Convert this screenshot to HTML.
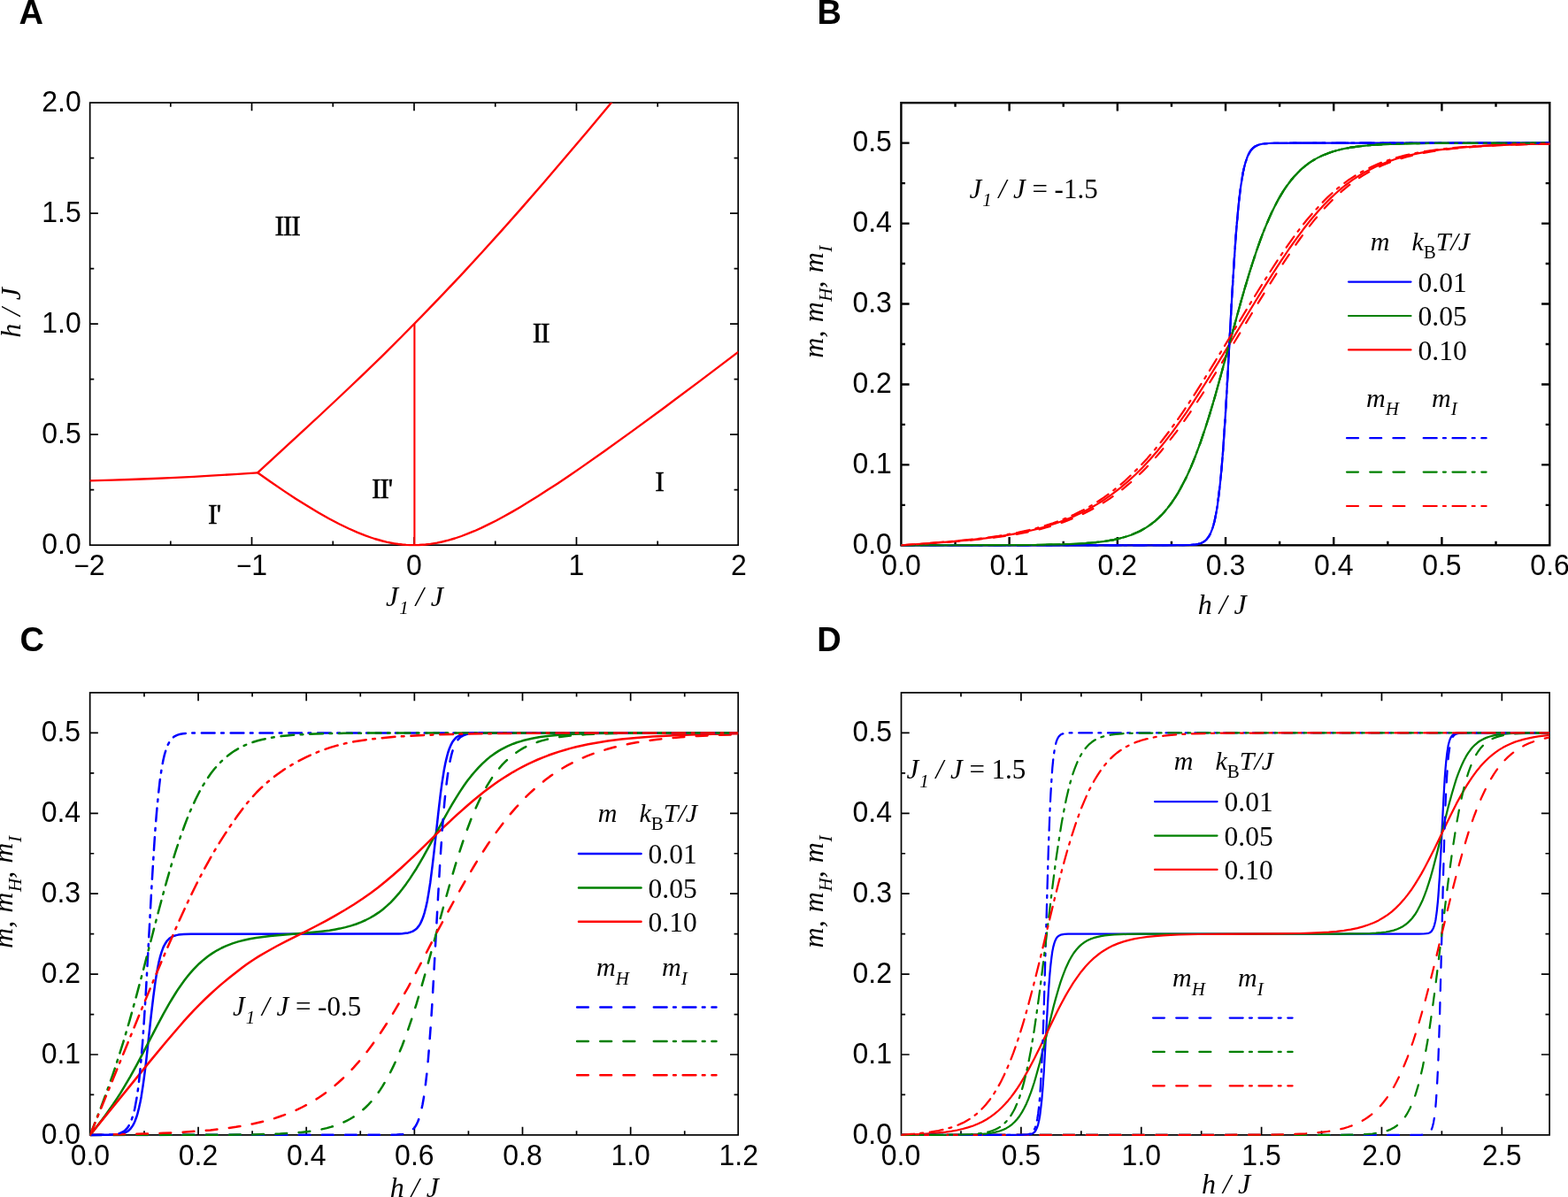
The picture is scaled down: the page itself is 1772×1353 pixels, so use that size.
<!DOCTYPE html>
<html><head><meta charset="utf-8"><title>Phase diagram and magnetization curves</title>
<style>html,body{margin:0;padding:0;background:#fff}svg{display:block}</style>
</head><body>
<svg width="1772" height="1353" viewBox="0 0 1772 1353">
<rect width="1772" height="1353" fill="#fff"/>
<defs>
<clipPath id="cA"><rect x="101.65" y="116.1" width="732.55" height="501.55"/></clipPath>
<clipPath id="cB"><rect x="1018.4" y="116.2" width="732.9" height="501.6"/></clipPath>
<clipPath id="cC"><rect x="101.65" y="782.95" width="732.55" height="501.45"/></clipPath>
<clipPath id="cD"><rect x="1018.5" y="782.95" width="732.6" height="501.45"/></clipPath>
</defs>
<text x="21.5" y="26.7" font-family="'Liberation Sans', sans-serif" font-weight="bold" font-size="38">A</text>
<text x="923.5" y="26.7" font-family="'Liberation Sans', sans-serif" font-weight="bold" font-size="38">B</text>
<text x="22.5" y="735.6" font-family="'Liberation Sans', sans-serif" font-weight="bold" font-size="38">C</text>
<text x="923.3" y="735.6" font-family="'Liberation Sans', sans-serif" font-weight="bold" font-size="38">D</text>
<rect x="101.65" y="116.1" width="732.55" height="500.05" fill="none" stroke="#000" stroke-width="1.7"/>
<path d="M284.53 616.15v-9.2M284.53 116.1v9.2M468 616.15v-9.2M468 116.1v9.2M651.47 616.15v-9.2M651.47 116.1v9.2M192.8 616.15v-4.6M192.8 116.1v4.6M376.27 616.15v-4.6M376.27 116.1v4.6M559.74 616.15v-4.6M559.74 116.1v4.6M743.21 616.15v-4.6M743.21 116.1v4.6M101.65 491.14h9.2M834.2 491.14h-9.2M101.65 366.12h9.2M834.2 366.12h-9.2M101.65 241.11h9.2M834.2 241.11h-9.2M101.65 553.64h4.6M834.2 553.64h-4.6M101.65 428.63h4.6M834.2 428.63h-4.6M101.65 303.62h4.6M834.2 303.62h-4.6M101.65 178.61h4.6M834.2 178.61h-4.6" fill="none" stroke="#000" stroke-width="1.7"/>
<polyline points="101.1,543.3 127.3,542.6 146.9,542 173.1,541 192.8,540.1 219,538.8 238.7,537.7 264.9,536.1 291.1,534.3" fill="none" stroke="#ff0000" stroke-width="2.35" stroke-linejoin="round" stroke-linecap="butt" clip-path="url(#cA)"/>
<polyline points="291.1,534.3 306,544.8 320.8,554.9 334.2,563.7 347.6,572.1 359.5,579.2 371.4,586 383.3,592.2 393.7,597.3 404.1,601.9 413,605.4 418.9,607.5 423.4,609 432.3,611.5 436.8,612.6 441.2,613.5 445.7,614.3 450.2,615 454.6,615.5 459.1,615.9 463.5,616.1 468,616.1" fill="none" stroke="#ff0000" stroke-width="2.35" stroke-linejoin="round" stroke-linecap="butt" clip-path="url(#cA)"/>
<polyline points="468,616.1 473.5,616 480.9,615.5 486.4,614.9 493.8,613.7 499.3,612.5 506.7,610.7 514.1,608.5 521.5,606 528.8,603.2 536.2,600.2 543.6,596.9 552.8,592.4 560.2,588.7 569.4,583.7 578.6,578.6 587.9,573.2 597.1,567.6 608.1,560.7 619.2,553.6 630.3,546.4 643.2,537.7 656.1,528.9 683.7,509.5 715.1,486.9 750.1,461.2 790.7,430.9 834.9,397.4" fill="none" stroke="#ff0000" stroke-width="2.35" stroke-linejoin="round" stroke-linecap="butt" clip-path="url(#cA)"/>
<polyline points="291.1,534.3 342.1,487.4 362.5,468.5 387,445.5 409.5,424.1 432,402.3 454.4,380 476.9,357.2 499.3,333.9 521.8,310.1 544.2,285.7 566.7,260.9 589.1,235.6 613.6,207.4 638.1,178.8 664.7,147.4 697.3,108.4" fill="none" stroke="#ff0000" stroke-width="2.35" stroke-linejoin="round" stroke-linecap="butt" clip-path="url(#cA)"/>
<line x1="468.4" y1="366.12" x2="468.4" y2="616.15" stroke="#ff0000" stroke-width="2.1"/>
<text transform="translate(101.06,649.75) scale(0.955,1)" text-anchor="middle" font-family="'Liberation Sans', sans-serif" font-size="33.5"><tspan font-size="31">−</tspan>2</text>
<text transform="translate(284.53,649.75) scale(0.955,1)" text-anchor="middle" font-family="'Liberation Sans', sans-serif" font-size="33.5"><tspan font-size="31">−</tspan>1</text>
<text transform="translate(468,649.75) scale(0.955,1)" text-anchor="middle" font-family="'Liberation Sans', sans-serif" font-size="33.5">0</text>
<text transform="translate(651.47,649.75) scale(0.955,1)" text-anchor="middle" font-family="'Liberation Sans', sans-serif" font-size="33.5">1</text>
<text transform="translate(834.94,649.75) scale(0.955,1)" text-anchor="middle" font-family="'Liberation Sans', sans-serif" font-size="33.5">2</text>
<text transform="translate(91.8,625.75) scale(0.955,1)" text-anchor="end" font-family="'Liberation Sans', sans-serif" font-size="33.5">0.0</text>
<text transform="translate(91.8,500.74) scale(0.955,1)" text-anchor="end" font-family="'Liberation Sans', sans-serif" font-size="33.5">0.5</text>
<text transform="translate(91.8,375.73) scale(0.955,1)" text-anchor="end" font-family="'Liberation Sans', sans-serif" font-size="33.5">1.0</text>
<text transform="translate(91.8,250.71) scale(0.955,1)" text-anchor="end" font-family="'Liberation Sans', sans-serif" font-size="33.5">1.5</text>
<text transform="translate(91.8,125.7) scale(0.955,1)" text-anchor="end" font-family="'Liberation Sans', sans-serif" font-size="33.5">2.0</text>
<text x="324.5" y="265.8" text-anchor="middle" font-family="'Liberation Serif', serif" font-size="32" letter-spacing="-1.3" stroke="#000" stroke-width="0.45">III</text>
<text x="611" y="386.8" text-anchor="middle" font-family="'Liberation Serif', serif" font-size="32" letter-spacing="-1.3" stroke="#000" stroke-width="0.45">II</text>
<text x="745" y="554.8" text-anchor="middle" font-family="'Liberation Serif', serif" font-size="32" letter-spacing="-1.3" stroke="#000" stroke-width="0.45">I</text>
<text x="431.5" y="562.8" text-anchor="middle" font-family="'Liberation Serif', serif" font-size="32" letter-spacing="-1.3" stroke="#000" stroke-width="0.45">II'</text>
<text x="242" y="591.8" text-anchor="middle" font-family="'Liberation Serif', serif" font-size="32" letter-spacing="-1.3" stroke="#000" stroke-width="0.45">I'</text>
<text transform="translate(22.5,353.5) rotate(-90)" text-anchor="middle" font-family="'Liberation Serif', serif" font-style="italic" font-size="32" word-spacing="0.8">h / J</text>
<text x="468.5" y="684.5" text-anchor="middle" font-family="'Liberation Serif', serif" font-style="italic" font-size="32">J<tspan dy="9.4" dx="1" font-size="21">1</tspan><tspan dy="-9.4"> / J</tspan></text>
<rect x="1018.4" y="116.2" width="732.9" height="500.1" fill="none" stroke="#000" stroke-width="2.4"/>
<path d="M1140.65 616.3v-9.2M1140.65 116.2v9.2M1262.84 616.3v-9.2M1262.84 116.2v9.2M1385.03 616.3v-9.2M1385.03 116.2v9.2M1507.22 616.3v-9.2M1507.22 116.2v9.2M1629.41 616.3v-9.2M1629.41 116.2v9.2M1079.56 616.3v-4.6M1079.56 116.2v4.6M1201.74 616.3v-4.6M1201.74 116.2v4.6M1323.93 616.3v-4.6M1323.93 116.2v4.6M1446.12 616.3v-4.6M1446.12 116.2v4.6M1568.32 616.3v-4.6M1568.32 116.2v4.6M1690.51 616.3v-4.6M1690.51 116.2v4.6M1018.4 525.37h9.2M1751.3 525.37h-9.2M1018.4 434.45h9.2M1751.3 434.45h-9.2M1018.4 343.52h9.2M1751.3 343.52h-9.2M1018.4 252.59h9.2M1751.3 252.59h-9.2M1018.4 161.66h9.2M1751.3 161.66h-9.2M1018.4 570.84h4.6M1751.3 570.84h-4.6M1018.4 479.91h4.6M1751.3 479.91h-4.6M1018.4 388.98h4.6M1751.3 388.98h-4.6M1018.4 298.05h4.6M1751.3 298.05h-4.6M1018.4 207.13h4.6M1751.3 207.13h-4.6" fill="none" stroke="#000" stroke-width="2.4"/>
<polyline points="1018.5,616.3 1311.9,616.3 1335.9,616.2 1345.2,616 1348.6,615.7 1351.5,615.4 1354,614.9 1356.4,614.2 1358.4,613.4 1360.3,612.4 1361.8,611.3 1363.3,610 1364.7,608.3 1366.2,606.2 1367.7,603.5 1368.6,601.4 1369.6,598.9 1370.6,596 1371.6,592.6 1372.6,588.8 1374,581.9 1375,576.4 1376,570.2 1377.4,559.2 1378.9,546.1 1380.4,530.7 1381.9,512.7 1383.3,492.3 1384.8,469.5 1386.3,444.6 1391.6,346.2 1394.1,304.5 1396.5,268.4 1397.5,255.9 1399,239.2 1400.4,225 1402.4,209.4 1403.9,200.1 1404.8,194.8 1405.8,190.2 1406.8,186.2 1407.8,182.8 1408.8,179.8 1409.7,177.2 1410.7,175 1412.2,172.2 1413.2,170.7 1414.6,168.8 1416.6,166.8 1418.5,165.4 1421,164.2 1423.4,163.4 1426.4,162.7 1429.8,162.3 1433.7,162 1439.1,161.8 1463,161.7 1751.6,161.7" fill="none" stroke="#0000ff" stroke-width="2.2" stroke-linejoin="round" stroke-linecap="butt" clip-path="url(#cB)"/>
<polyline points="1018.5,616.3 1119.2,616.2 1167.6,616 1186.2,615.7 1201.4,615.3 1214.6,614.8 1226.3,614.1 1238.1,613.1 1248.3,611.8 1257.6,610.3 1262,609.4 1266.4,608.3 1270.3,607.2 1274.3,606 1278.2,604.7 1281.6,603.3 1285,601.8 1288.4,600.2 1291.9,598.3 1294.8,596.6 1298.7,594 1302.1,591.5 1305.6,588.8 1309,585.7 1312.4,582.4 1315.8,578.7 1319.2,574.6 1322.2,570.8 1325.6,566 1328.5,561.6 1331.5,556.8 1334.4,551.6 1337.3,546.1 1340.3,540.2 1343.2,534 1345.7,528.4 1348.6,521.4 1351,515.3 1356.4,500.8 1361.8,484.9 1367.2,467.9 1372.6,449.8 1377.9,430.8 1398,356.9 1402.4,341 1406.8,325.6 1411.7,309.3 1416.1,295.3 1420.5,282.1 1424.4,271.1 1427.3,263.3 1429.8,257.1 1434.7,245.6 1437.1,240.3 1440.1,234.2 1442.5,229.5 1445.4,224.1 1447.9,219.9 1450.8,215.2 1453.7,210.8 1456.7,206.8 1459.6,203 1462.6,199.6 1465.5,196.4 1468.9,192.9 1472.3,189.8 1475.8,187 1479.2,184.4 1482.6,182.1 1486,180.1 1489.9,177.9 1493.9,176 1497.8,174.4 1502.2,172.7 1506.6,171.2 1511,170 1515.9,168.8 1521.2,167.6 1526.6,166.7 1532.5,165.8 1538.4,165.1 1550.1,164 1563.3,163.2 1579,162.6 1598,162.2 1619.5,161.9 1647.4,161.8 1751.6,161.7" fill="none" stroke="#008000" stroke-width="2.2" stroke-linejoin="round" stroke-linecap="butt" clip-path="url(#cB)"/>
<polyline points="1018.5,616.3 1040,614.9 1073.2,612.4 1095.2,610.4 1113.8,608.4 1130.5,606.1 1138.3,604.9 1145.6,603.6 1153,602.2 1159.8,600.8 1166.7,599.2 1173,597.6 1179.9,595.7 1186.2,593.8 1192.6,591.8 1198.9,589.5 1205.3,587.1 1211.2,584.7 1217,582.1 1222.9,579.3 1228.8,576.2 1234.1,573.3 1239.5,570.1 1244.9,566.8 1250.3,563.2 1255.7,559.4 1261,555.4 1265.9,551.6 1270.3,547.9 1274.7,544.1 1283.1,536.5 1291.4,528.2 1299.7,519.3 1308,509.7 1316.8,498.9 1325.1,488.1 1333.9,475.9 1340.8,466.1 1348.1,455.2 1355.4,443.9 1363.3,431.5 1377,409.3 1417.6,342.5 1428.8,324.3 1438.6,308.8 1447.9,294.6 1456.7,281.5 1465,269.8 1472.8,259.3 1481.1,248.7 1489,239.5 1496.8,231 1500.7,227 1504.6,223.1 1508.5,219.5 1512.4,216 1516.3,212.7 1520.3,209.5 1524.2,206.6 1528.1,203.7 1532,201.1 1536.4,198.3 1540.3,195.9 1544.7,193.5 1549.1,191.2 1553.5,189 1557.9,187 1562.3,185.2 1566.7,183.4 1571.6,181.7 1576.5,180 1581.4,178.5 1591.7,175.8 1602.4,173.4 1614.2,171.2 1626.4,169.4 1639.6,167.8 1654.3,166.4 1669.9,165.3 1687,164.4 1706.1,163.6 1727.1,163 1751.6,162.6" fill="none" stroke="#ff0000" stroke-width="2.2" stroke-linejoin="round" stroke-linecap="butt" clip-path="url(#cB)"/>
<polyline points="1018.5,616.3 1311.9,616.3 1335.9,616.2 1345.2,616 1348.6,615.7 1351.5,615.4 1354,614.9 1356.4,614.2 1358.4,613.4 1360.3,612.4 1361.8,611.3 1363.3,610 1364.7,608.3 1366.2,606.2 1367.7,603.5 1368.6,601.4 1369.6,598.9 1370.6,596 1371.6,592.6 1372.6,588.8 1374,581.9 1375,576.4 1376,570.2 1377.4,559.2 1378.9,546.1 1380.4,530.7 1381.9,512.7 1383.3,492.3 1384.8,469.5 1386.3,444.6 1391.6,346.2 1394.1,304.5 1396.5,268.4 1397.5,255.9 1399,239.2 1400.4,225 1402.4,209.4 1403.9,200.1 1404.8,194.8 1405.8,190.2 1406.8,186.2 1407.8,182.8 1408.8,179.8 1409.7,177.2 1410.7,175 1412.2,172.2 1413.2,170.7 1414.6,168.8 1416.6,166.8 1418.5,165.4 1421,164.2 1423.4,163.4 1426.4,162.7 1429.8,162.3 1433.7,162 1439.1,161.8 1463,161.7 1751.6,161.7" fill="none" stroke="#0000ff" stroke-width="2.2" stroke-linejoin="round" stroke-linecap="round" stroke-dasharray="13.02 13.18" clip-path="url(#cB)"/>
<polyline points="1018.5,616.3 1119.2,616.2 1167.6,616 1186.2,615.7 1201.4,615.3 1214.6,614.8 1226.3,614.1 1238.1,613.1 1248.3,611.8 1257.6,610.3 1262,609.4 1266.4,608.3 1270.3,607.2 1274.3,606 1278.2,604.7 1281.6,603.3 1285,601.8 1288.4,600.2 1291.9,598.3 1294.8,596.6 1298.7,594 1302.1,591.5 1305.6,588.8 1309,585.7 1312.4,582.4 1315.8,578.7 1319.2,574.6 1322.2,570.8 1325.6,566 1328.5,561.6 1331.5,556.8 1334.4,551.6 1337.3,546.1 1340.3,540.2 1343.2,534 1345.7,528.4 1348.6,521.4 1351,515.3 1356.4,500.8 1361.8,484.9 1367.2,467.9 1372.6,449.8 1377.9,430.8 1398,356.9 1402.4,341 1406.8,325.6 1411.7,309.3 1416.1,295.3 1420.5,282.1 1424.4,271.1 1427.3,263.3 1429.8,257.1 1434.7,245.6 1437.1,240.3 1440.1,234.2 1442.5,229.5 1445.4,224.1 1447.9,219.9 1450.8,215.2 1453.7,210.8 1456.7,206.8 1459.6,203 1462.6,199.6 1465.5,196.4 1468.9,192.9 1472.3,189.8 1475.8,187 1479.2,184.4 1482.6,182.1 1486,180.1 1489.9,177.9 1493.9,176 1497.8,174.4 1502.2,172.7 1506.6,171.2 1511,170 1515.9,168.8 1521.2,167.6 1526.6,166.7 1532.5,165.8 1538.4,165.1 1550.1,164 1563.3,163.2 1579,162.6 1598,162.2 1619.5,161.9 1647.4,161.8 1751.6,161.7" fill="none" stroke="#008000" stroke-width="2.2" stroke-linejoin="round" stroke-linecap="round" stroke-dasharray="13.02 13.18" clip-path="url(#cB)"/>
<polyline points="1018.5,616.3 1040.5,615 1074.7,612.5 1096.7,610.6 1115.3,608.7 1131.9,606.5 1139.8,605.4 1147.6,604.1 1154.9,602.7 1161.8,601.3 1168.6,599.8 1175.5,598.1 1182.3,596.3 1189.2,594.3 1195.5,592.3 1201.9,590.1 1208.2,587.7 1214.1,585.3 1220,582.7 1225.8,580 1231.7,577 1237.1,574.1 1243,570.7 1248.3,567.4 1253.7,563.9 1259.1,560.1 1264.5,556.2 1269.4,552.3 1273.8,548.7 1278.2,545 1286.5,537.4 1290.9,533.1 1295.3,528.7 1303.6,519.8 1311.9,510.2 1320.7,499.4 1329,488.6 1337.8,476.5 1344.7,466.7 1352,455.8 1359.4,444.5 1367.7,431.4 1381.4,409.2 1421.5,343 1433.2,324.1 1443,308.6 1452.3,294.3 1461.1,281.3 1469.4,269.5 1477.2,259 1485,249.1 1492.9,239.8 1500.7,231.2 1504.6,227.2 1508.5,223.4 1512.4,219.7 1516.3,216.2 1520.3,212.9 1524.2,209.7 1528.1,206.7 1532,203.9 1535.9,201.2 1540.3,198.4 1544.2,196.1 1548.6,193.6 1552.5,191.5 1556.9,189.3 1561.3,187.3 1565.7,185.4 1570.1,183.7 1575,181.9 1584.3,178.9 1589.2,177.5 1594.6,176.1 1605.4,173.6 1617.1,171.4 1629.3,169.6 1642.5,167.9 1656.7,166.6 1671.9,165.5 1688.5,164.5 1707.1,163.7 1728.1,163.1 1751.6,162.6" fill="none" stroke="#ff0000" stroke-width="2.2" stroke-linejoin="round" stroke-linecap="round" stroke-dasharray="13.02 13.18" clip-path="url(#cB)"/>
<polyline points="1018.5,616.3 1311.9,616.3 1335.9,616.2 1345.2,616 1348.6,615.7 1351.5,615.4 1354,614.9 1356.4,614.2 1358.4,613.4 1360.3,612.4 1361.8,611.3 1363.3,610 1364.7,608.3 1366.2,606.2 1367.7,603.5 1368.6,601.4 1369.6,598.9 1370.6,596 1371.6,592.6 1372.6,588.8 1374,581.9 1375,576.4 1376,570.2 1377.4,559.2 1378.9,546.1 1380.4,530.7 1381.9,512.7 1383.3,492.3 1384.8,469.5 1386.3,444.6 1391.6,346.2 1394.1,304.5 1396.5,268.4 1397.5,255.9 1399,239.2 1400.4,225 1402.4,209.4 1403.9,200.1 1404.8,194.8 1405.8,190.2 1406.8,186.2 1407.8,182.8 1408.8,179.8 1409.7,177.2 1410.7,175 1412.2,172.2 1413.2,170.7 1414.6,168.8 1416.6,166.8 1418.5,165.4 1421,164.2 1423.4,163.4 1426.4,162.7 1429.8,162.3 1433.7,162 1439.1,161.8 1463,161.7 1751.6,161.7" fill="none" stroke="#0000ff" stroke-width="2.2" stroke-linejoin="round" stroke-linecap="round" stroke-dasharray="15.02 7.18 3.02 7.58" clip-path="url(#cB)"/>
<polyline points="1018.5,616.3 1119.2,616.2 1167.6,616 1186.2,615.7 1201.4,615.3 1214.6,614.8 1226.3,614.1 1238.1,613.1 1248.3,611.8 1257.6,610.3 1262,609.4 1266.4,608.3 1270.3,607.2 1274.3,606 1278.2,604.7 1281.6,603.3 1285,601.8 1288.4,600.2 1291.9,598.3 1294.8,596.6 1298.7,594 1302.1,591.5 1305.6,588.8 1309,585.7 1312.4,582.4 1315.8,578.7 1319.2,574.6 1322.2,570.8 1325.6,566 1328.5,561.6 1331.5,556.8 1334.4,551.6 1337.3,546.1 1340.3,540.2 1343.2,534 1345.7,528.4 1348.6,521.4 1351,515.3 1356.4,500.8 1361.8,484.9 1367.2,467.9 1372.6,449.8 1377.9,430.8 1398,356.9 1402.4,341 1406.8,325.6 1411.7,309.3 1416.1,295.3 1420.5,282.1 1424.4,271.1 1427.3,263.3 1429.8,257.1 1434.7,245.6 1437.1,240.3 1440.1,234.2 1442.5,229.5 1445.4,224.1 1447.9,219.9 1450.8,215.2 1453.7,210.8 1456.7,206.8 1459.6,203 1462.6,199.6 1465.5,196.4 1468.9,192.9 1472.3,189.8 1475.8,187 1479.2,184.4 1482.6,182.1 1486,180.1 1489.9,177.9 1493.9,176 1497.8,174.4 1502.2,172.7 1506.6,171.2 1511,170 1515.9,168.8 1521.2,167.6 1526.6,166.7 1532.5,165.8 1538.4,165.1 1550.1,164 1563.3,163.2 1579,162.6 1598,162.2 1619.5,161.9 1647.4,161.8 1751.6,161.7" fill="none" stroke="#008000" stroke-width="2.2" stroke-linejoin="round" stroke-linecap="round" stroke-dasharray="15.02 7.18 3.02 7.58" clip-path="url(#cB)"/>
<polyline points="1018.5,616.3 1039,614.9 1071.8,612.2 1093.8,610.2 1112.4,608.1 1128.5,605.8 1136.3,604.5 1143.7,603.2 1150.5,601.9 1157.4,600.4 1164.2,598.8 1170.6,597.2 1177.4,595.3 1183.8,593.3 1190.1,591.2 1196.5,588.9 1202.4,586.6 1208.2,584.2 1214.1,581.5 1220,578.6 1225.8,575.6 1231.2,572.6 1236.6,569.4 1242,566 1247.4,562.4 1252.2,558.9 1257.6,554.8 1262.5,551 1266.9,547.3 1271.3,543.5 1279.6,535.7 1287.9,527.4 1296.3,518.4 1304.6,508.8 1312.9,498.5 1321.2,487.7 1330,475.5 1336.9,465.6 1344.2,454.7 1351.5,443.4 1359.4,431 1372.6,409.6 1413.2,342.6 1424.4,324.5 1434.2,309 1443.5,294.7 1452.3,281.7 1460.6,269.9 1468.4,259.3 1476.7,248.8 1484.6,239.6 1492.4,231 1496.3,227 1500.2,223.1 1504.1,219.5 1508,216 1511.9,212.7 1515.9,209.5 1519.8,206.6 1523.7,203.7 1527.6,201.1 1532,198.3 1535.9,195.9 1540.3,193.5 1544.7,191.1 1549.1,189 1553.5,187 1557.9,185.1 1562.3,183.4 1567.2,181.7 1572.1,180 1577,178.5 1582.4,177 1587.8,175.6 1599,173.2 1610.7,171 1623,169.3 1636.7,167.7 1651.3,166.3 1667.5,165.2 1685.1,164.3 1704.6,163.5 1726.7,162.9 1751.6,162.5" fill="none" stroke="#ff0000" stroke-width="2.2" stroke-linejoin="round" stroke-linecap="round" stroke-dasharray="15.02 7.18 3.02 7.58" clip-path="url(#cB)"/>
<text transform="translate(1018.46,649.9) scale(0.955,1)" text-anchor="middle" font-family="'Liberation Sans', sans-serif" font-size="33.5">0.0</text>
<text transform="translate(1140.65,649.9) scale(0.955,1)" text-anchor="middle" font-family="'Liberation Sans', sans-serif" font-size="33.5">0.1</text>
<text transform="translate(1262.84,649.9) scale(0.955,1)" text-anchor="middle" font-family="'Liberation Sans', sans-serif" font-size="33.5">0.2</text>
<text transform="translate(1385.03,649.9) scale(0.955,1)" text-anchor="middle" font-family="'Liberation Sans', sans-serif" font-size="33.5">0.3</text>
<text transform="translate(1507.22,649.9) scale(0.955,1)" text-anchor="middle" font-family="'Liberation Sans', sans-serif" font-size="33.5">0.4</text>
<text transform="translate(1629.41,649.9) scale(0.955,1)" text-anchor="middle" font-family="'Liberation Sans', sans-serif" font-size="33.5">0.5</text>
<text transform="translate(1751.6,649.9) scale(0.955,1)" text-anchor="middle" font-family="'Liberation Sans', sans-serif" font-size="33.5">0.6</text>
<text transform="translate(1007.9,625.9) scale(0.955,1)" text-anchor="end" font-family="'Liberation Sans', sans-serif" font-size="33.5">0.0</text>
<text transform="translate(1007.9,534.97) scale(0.955,1)" text-anchor="end" font-family="'Liberation Sans', sans-serif" font-size="33.5">0.1</text>
<text transform="translate(1007.9,444.05) scale(0.955,1)" text-anchor="end" font-family="'Liberation Sans', sans-serif" font-size="33.5">0.2</text>
<text transform="translate(1007.9,353.12) scale(0.955,1)" text-anchor="end" font-family="'Liberation Sans', sans-serif" font-size="33.5">0.3</text>
<text transform="translate(1007.9,262.19) scale(0.955,1)" text-anchor="end" font-family="'Liberation Sans', sans-serif" font-size="33.5">0.4</text>
<text transform="translate(1007.9,171.26) scale(0.955,1)" text-anchor="end" font-family="'Liberation Sans', sans-serif" font-size="33.5">0.5</text>
<text x="1548.8" y="283.1" font-family="'Liberation Serif', serif" font-style="italic" font-size="30">m</text>
<text x="1595.5" y="283.1" font-family="'Liberation Serif', serif" font-style="italic" font-size="30">k<tspan dy="9" font-size="21" font-style="normal">B</tspan><tspan dy="-9">T/J</tspan></text>
<line x1="1524" y1="318.6" x2="1594.5" y2="318.6" stroke="#0000ff" stroke-width="2.2" stroke-linecap="round"/>
<text x="1602.5" y="329.7" font-family="'Liberation Serif', serif" font-size="31.5">0.01</text>
<line x1="1521.99" y1="495.2" x2="1588" y2="495.2" stroke="#0000ff" stroke-width="2.2" stroke-linecap="round" stroke-dasharray="13.02 13.18"/>
<line x1="1608.69" y1="495.2" x2="1679.61" y2="495.2" stroke="#0000ff" stroke-width="2.2" stroke-linecap="round" stroke-dasharray="15.02 7.18 3.02 7.58"/>
<line x1="1524" y1="357" x2="1594.5" y2="357" stroke="#008000" stroke-width="2.2" stroke-linecap="round"/>
<text x="1602.5" y="368.1" font-family="'Liberation Serif', serif" font-size="31.5">0.05</text>
<line x1="1521.99" y1="533.6" x2="1588" y2="533.6" stroke="#008000" stroke-width="2.2" stroke-linecap="round" stroke-dasharray="13.02 13.18"/>
<line x1="1608.69" y1="533.6" x2="1679.61" y2="533.6" stroke="#008000" stroke-width="2.2" stroke-linecap="round" stroke-dasharray="15.02 7.18 3.02 7.58"/>
<line x1="1524" y1="395.4" x2="1594.5" y2="395.4" stroke="#ff0000" stroke-width="2.2" stroke-linecap="round"/>
<text x="1602.5" y="406.5" font-family="'Liberation Serif', serif" font-size="31.5">0.10</text>
<line x1="1521.99" y1="572" x2="1588" y2="572" stroke="#ff0000" stroke-width="2.2" stroke-linecap="round" stroke-dasharray="13.02 13.18"/>
<line x1="1608.69" y1="572" x2="1679.61" y2="572" stroke="#ff0000" stroke-width="2.2" stroke-linecap="round" stroke-dasharray="15.02 7.18 3.02 7.58"/>
<text x="1544" y="459.8" font-family="'Liberation Serif', serif" font-style="italic" font-size="30">m<tspan dy="9.4" font-size="21">H</tspan></text>
<text x="1618" y="459.8" font-family="'Liberation Serif', serif" font-style="italic" font-size="30">m<tspan dy="9.4" font-size="21">I</tspan></text>
<text x="1095.5" y="223.9" font-family="'Liberation Serif', serif" font-size="31"><tspan font-style="italic">J</tspan><tspan dy="9.4" dx="1" font-size="21" font-style="italic">1</tspan><tspan dy="-9.4" font-style="italic"> / J</tspan> = -1.5</text>
<text x="1381.2" y="694.2" text-anchor="middle" font-family="'Liberation Serif', serif" font-style="italic" font-size="32">h / J</text>
<text transform="translate(930.2,341.2) rotate(-90)" text-anchor="middle" font-family="'Liberation Serif', serif" font-style="italic" font-size="32" word-spacing="1.2">m, m<tspan dy="10" dx="0.5" font-size="21">H</tspan><tspan dy="-10">, m</tspan><tspan dy="10" dx="0.5" font-size="21">I</tspan></text>
<rect x="101.65" y="782.95" width="732.55" height="499.95" fill="none" stroke="#000" stroke-width="1.7"/>
<path d="M224.05 1282.9v-9.2M224.05 782.95v9.2M346.2 1282.9v-9.2M346.2 782.95v9.2M468.35 1282.9v-9.2M468.35 782.95v9.2M590.5 1282.9v-9.2M590.5 782.95v9.2M712.65 1282.9v-9.2M712.65 782.95v9.2M162.98 1282.9v-4.6M162.98 782.95v4.6M285.12 1282.9v-4.6M285.12 782.95v4.6M407.27 1282.9v-4.6M407.27 782.95v4.6M529.43 1282.9v-4.6M529.43 782.95v4.6M651.57 1282.9v-4.6M651.57 782.95v4.6M773.73 1282.9v-4.6M773.73 782.95v4.6M101.65 1192h9.2M834.2 1192h-9.2M101.65 1101.1h9.2M834.2 1101.1h-9.2M101.65 1010.2h9.2M834.2 1010.2h-9.2M101.65 919.3h9.2M834.2 919.3h-9.2M101.65 828.4h9.2M834.2 828.4h-9.2M101.65 1237.45h4.6M834.2 1237.45h-4.6M101.65 1146.55h4.6M834.2 1146.55h-4.6M101.65 1055.65h4.6M834.2 1055.65h-4.6M101.65 964.75h4.6M834.2 964.75h-4.6M101.65 873.85h4.6M834.2 873.85h-4.6" fill="none" stroke="#000" stroke-width="1.7"/>
<polyline points="101.9,1282.9 119.5,1282.8 128.3,1282.6 131.7,1282.3 134.7,1282 137.1,1281.6 139.5,1280.9 142,1280 143.9,1278.9 145.9,1277.4 147.4,1275.9 148.8,1274.1 150.3,1271.9 151.8,1269 152.7,1266.8 154.2,1262.8 155.2,1259.7 157.1,1252.1 158.6,1245.2 159.6,1239.9 161.5,1227.6 163,1216.9 165,1201 170.8,1147.5 173.3,1126.7 175.7,1108.7 176.7,1102.5 178.2,1094.2 179.6,1087.1 181.1,1081.1 182.6,1076.2 183.6,1073.4 184.5,1070.9 185.5,1068.8 186.5,1067 188.4,1064 189.4,1062.8 190.9,1061.3 191.9,1060.5 193.3,1059.5 195.3,1058.4 197.2,1057.7 199.2,1057.1 201.6,1056.6 204.6,1056.3 207.5,1056 215.8,1055.7 236.8,1055.7 430.9,1055.6 443.7,1055.6 451,1055.4 454.9,1055.2 458.3,1054.8 461.3,1054.4 463.7,1053.7 466.1,1052.8 468.1,1051.7 470.1,1050.3 471.5,1048.9 473.5,1046.4 474.5,1044.9 475.4,1043.1 476.9,1039.9 478.4,1036 479.8,1031.3 481.3,1025.5 482.8,1018.7 484.2,1010.6 486.2,998 488.6,979.1 490.6,962.1 495.5,917.3 497.9,896.8 499.4,885.9 500.9,876.2 501.8,870.4 503.3,862.8 504.8,856.4 506.2,851 507.7,846.5 509.2,842.9 510.2,840.9 511.1,839.1 513.1,836.3 515,834.2 516,833.3 517.5,832.3 519.4,831.3 521.4,830.5 523.8,829.8 526.3,829.3 529.2,829 532.6,828.7 541.9,828.5 565.4,828.4 834.8,828.4" fill="none" stroke="#0000ff" stroke-width="2.5" stroke-linejoin="round" stroke-linecap="butt" clip-path="url(#cC)"/>
<polyline points="101.9,1282.9 114.1,1267.2 119,1260.7 123.4,1254.6 127.8,1248.3 131.7,1242.4 136.1,1235.6 140,1229.2 147.4,1216.6 154.7,1203.3 161.5,1190.3 177.2,1160.1 184.5,1146.4 191.4,1134.2 194.8,1128.5 198.2,1123 201.6,1117.7 205.1,1112.8 208.5,1108.1 211.4,1104.3 214.8,1100.1 218.3,1096.2 221.7,1092.6 225.1,1089.2 230,1084.9 234.9,1081 239.8,1077.6 245.2,1074.3 250.5,1071.5 256.4,1068.8 262.8,1066.4 269.1,1064.4 275.5,1062.8 282.3,1061.3 289.6,1060 297.5,1058.9 305.3,1058 313.6,1057.2 345.9,1054.6 359.1,1053.3 365.9,1052.5 372.3,1051.7 378.1,1050.7 384,1049.6 390.4,1048.1 396.7,1046.4 402.6,1044.5 408,1042.4 413.3,1040 418.2,1037.5 423.1,1034.6 428,1031.4 432.9,1027.7 437.3,1023.9 441.7,1019.8 446.1,1015.2 450.5,1010.2 454.4,1005.3 458.8,999.4 463.2,993.1 466.6,987.9 470.6,981.7 474.5,975.1 478.4,968.4 485.7,955.1 502.3,924.4 506.7,916.5 511.1,908.9 515.5,901.6 519.9,894.6 524.3,888 528.2,882.6 532.6,876.9 536.6,872.2 540.5,867.8 544.9,863.3 549.3,859.3 553.7,855.6 558.1,852.4 563,849.1 566.4,847.1 569.8,845.3 573.2,843.6 576.6,842.1 580.1,840.7 584,839.3 587.9,838.1 592.3,836.8 596.7,835.7 601.1,834.8 610.4,833.1 620.7,831.8 631.9,830.8 643.1,830 656.3,829.5 671.5,829.1 690.1,828.8 738,828.5 834.8,828.4" fill="none" stroke="#008000" stroke-width="2.5" stroke-linejoin="round" stroke-linecap="butt" clip-path="url(#cC)"/>
<polyline points="101.9,1282.9 168.9,1200.4 187,1178.5 200.7,1162.5 207,1155.2 213.4,1148.2 219.2,1141.9 225.1,1135.9 231,1130 236.8,1124.5 242.7,1119.1 248.6,1113.9 254,1109.4 259.3,1105 267.6,1098.4 274,1093.5 278.4,1090.3 282.8,1087.2 287.7,1084 292.6,1080.9 301.9,1075.5 312.6,1069.5 323.4,1063.9 344.9,1053.1 355.7,1047.5 367.9,1041.1 378.6,1035.1 389.9,1028.5 400.1,1022.2 409.9,1015.8 419.2,1009.2 427.5,1002.9 435.8,996.3 444.1,989.3 452.9,981.5 460.3,974.7 468.6,966.9 478.4,957.3 492.6,943.3 500.9,935.4 516.5,920.9 529.7,909.2 535.6,904.3 541.4,899.5 547.3,894.8 552.7,890.7 558.1,886.8 563.4,883.1 568.8,879.5 574.2,876.1 579.6,872.8 585.4,869.5 590.8,866.6 596.7,863.6 602.1,861.1 607.9,858.5 613.8,856.1 619.7,853.8 625.5,851.7 631.9,849.6 638.3,847.7 644.6,845.9 651,844.3 657.8,842.7 664.7,841.3 672,839.9 679.3,838.7 686.7,837.6 702.3,835.6 718.9,833.9 737.5,832.5 757.5,831.4 780,830.4 805.5,829.8 834.8,829.2" fill="none" stroke="#ff0000" stroke-width="2.5" stroke-linejoin="round" stroke-linecap="butt" clip-path="url(#cC)"/>
<polyline points="101.9,1282.9 438.8,1282.8 448.5,1282.6 452,1282.3 454.9,1282 457.3,1281.5 459.8,1280.9 461.7,1280.1 463.7,1279 465.2,1278 466.6,1276.7 468.1,1275 469.6,1273 471,1270.3 472,1268.2 473,1265.8 474,1262.9 475,1259.6 475.9,1255.8 477.4,1249 478.4,1243.6 479.4,1237.5 480.8,1226.7 482.3,1213.8 483.8,1198.5 485.2,1180.7 486.7,1160.5 488.2,1137.9 489.6,1113.2 495,1014.9 497.4,972.9 499.9,936.6 500.9,923.9 502.3,907.1 503.8,892.7 505.3,880.5 506.7,870.4 507.7,864.7 508.7,859.7 509.7,855.3 510.6,851.6 511.6,848.3 512.6,845.4 513.6,843 515,840 516,838.3 517.5,836.2 519.4,834.1 521.4,832.6 523.8,831.2 526.3,830.3 529.2,829.6 532.6,829.1 536.6,828.8 541.9,828.5 565.4,828.4 834.8,828.4" fill="none" stroke="#0000ff" stroke-width="2.5" stroke-linejoin="round" stroke-linecap="round" stroke-dasharray="12.75 13.45" clip-path="url(#cC)"/>
<polyline points="101.9,1282.9 215.3,1282.8 267.2,1282.6 286.7,1282.4 302.8,1282 316.5,1281.5 328.3,1280.8 340,1279.9 350.8,1278.6 355.7,1277.9 360.5,1277 364.9,1276.1 369.3,1275.1 373.7,1273.9 377.7,1272.7 381.6,1271.3 385,1270 388.4,1268.5 391.8,1266.8 395.3,1265 398.7,1263 402.6,1260.4 406,1257.8 409.4,1255.1 412.9,1252 416.3,1248.6 419.7,1244.9 423.1,1240.8 426.1,1236.9 429.5,1232.1 432.4,1227.6 435.3,1222.8 438.3,1217.6 441.2,1212 444.1,1206.1 447.1,1199.7 449.5,1194.2 454.4,1182.2 459.8,1167.7 465.2,1151.9 470.6,1134.9 475.9,1116.8 481.3,1097.8 486.7,1078.3 501.4,1024 509.7,994.4 514.6,977.9 519,963.8 523.4,950.5 527.3,939.4 532.6,925.3 537.5,913.7 540,908.3 542.9,902.1 545.4,897.3 548.3,891.9 550.7,887.6 553.7,882.9 556.1,879.1 559,875 562,871.1 564.9,867.5 567.8,864.2 570.8,861.2 573.7,858.4 577.1,855.4 580.6,852.7 584,850.2 587.4,848 591.3,845.7 595.2,843.7 599.1,841.9 603,840.4 607.4,838.8 611.8,837.4 616.7,836.1 621.6,835 627,833.9 632.4,833.1 638.3,832.2 649.5,831.1 662.7,830.1 677.9,829.5 695.5,829 716,828.7 742.4,828.5 834.8,828.4" fill="none" stroke="#008000" stroke-width="2.5" stroke-linejoin="round" stroke-linecap="round" stroke-dasharray="12.75 13.45" clip-path="url(#cC)"/>
<polyline points="101.9,1282.9 136.6,1282.2 162,1281.6 184,1280.8 203.6,1279.9 221.7,1278.7 237.8,1277.4 253,1275.7 266.7,1273.8 273.5,1272.7 279.9,1271.5 286.2,1270.3 292.6,1268.8 298.4,1267.4 304.3,1265.8 310.2,1264.1 315.6,1262.3 320.9,1260.4 326.3,1258.3 331.7,1256.1 336.6,1253.9 341.5,1251.5 346.4,1249 351.3,1246.2 355.7,1243.6 360.5,1240.5 364.9,1237.5 369.3,1234.3 373.7,1230.9 378.1,1227.3 382.5,1223.5 386.9,1219.5 391.3,1215.3 395.7,1210.8 399.7,1206.6 404.1,1201.7 408,1197.1 412.4,1191.7 416.3,1186.7 420.2,1181.5 424.6,1175.4 431.9,1164.8 439.3,1153.4 446.6,1141.4 454.4,1128 461.3,1115.8 468.6,1102.2 478.9,1082.7 493,1055.2 512.6,1019.1 521.4,1003.4 529.2,989.8 536.6,977.5 543.9,965.8 551.7,953.8 559.5,942.5 567.4,931.9 575.2,922 583,912.9 590.8,904.4 594.7,900.4 598.6,896.6 602.6,893 607,889.1 611.4,885.4 616.3,881.6 621.1,877.9 626,874.5 630.9,871.3 636.3,868 641.2,865.2 646.6,862.3 651.9,859.6 657.3,857.2 663.2,854.7 669.1,852.4 674.9,850.3 680.8,848.4 687.1,846.5 693.5,844.8 699.9,843.2 706.7,841.7 713.5,840.3 720.4,839.1 727.7,837.9 735.5,836.8 743.4,835.8 751.7,834.9 769.3,833.3 788.8,831.9 810.4,830.9 834.8,830.1" fill="none" stroke="#ff0000" stroke-width="2.5" stroke-linejoin="round" stroke-linecap="round" stroke-dasharray="12.75 13.45" clip-path="url(#cC)"/>
<polyline points="101.9,1282.9 119,1282.8 123.9,1282.6 127.8,1282.3 131.2,1281.9 134.2,1281.3 136.6,1280.4 139.1,1279.2 140.5,1278.3 141.5,1277.5 143.5,1275.5 144.4,1274.2 145.4,1272.7 146.9,1270 148.3,1266.7 149.8,1262.4 151.3,1257.2 152.3,1253 153.7,1245.6 154.7,1239.7 155.7,1233.1 156.7,1225.5 158.1,1212.3 159.1,1202.3 161.1,1178.8 163,1150.9 165,1119 171.3,1003.5 173.8,962.8 175.2,941.2 176.7,922.1 177.7,910.8 179.2,895.8 180.6,883.1 181.6,875.9 182.6,869.5 183.6,863.9 184.5,859 185.5,854.7 186.5,851 187.5,847.8 188.9,843.8 189.9,841.6 191.4,838.8 192.8,836.7 194.3,834.9 195.8,833.5 197.7,832.1 199.7,831.1 201.6,830.4 204.1,829.7 207,829.2 210.4,828.9 214.4,828.6 226.1,828.4 834.8,828.4" fill="none" stroke="#0000ff" stroke-width="2.5" stroke-linejoin="round" stroke-linecap="round" stroke-dasharray="14.75 7.45 2.75 7.85" clip-path="url(#cC)"/>
<polyline points="101.9,1282.9 114.1,1251.6 118.5,1239.8 122.9,1227.7 127.3,1215.1 131.2,1203.5 135.1,1191.3 139.1,1178.7 146.4,1153.8 153.7,1127.3 161.1,1099.6 178.7,1031.7 183.6,1013.4 188.4,995.8 193.8,977.3 198.7,961.6 203.6,946.8 208.5,933.3 211.4,925.6 214.8,917.3 217.8,910.6 221.2,903.3 224.6,896.5 228,890.2 231.5,884.5 234.9,879.2 238.3,874.3 242.2,869.3 245.6,865.3 249.6,861.2 253.5,857.5 257.4,854.2 261.3,851.2 265.7,848.3 269.6,846 273.5,844 277.4,842.1 281.8,840.3 286.2,838.8 291.1,837.3 296,836 300.9,834.9 306.3,833.8 312.1,832.9 318,832.1 324.4,831.4 331.2,830.8 339,830.3 356.1,829.5 371.3,829.1 388.9,828.8 410.9,828.6 440.2,828.5 834.8,828.4" fill="none" stroke="#008000" stroke-width="2.5" stroke-linejoin="round" stroke-linecap="round" stroke-dasharray="14.75 7.45 2.75 7.85" clip-path="url(#cC)"/>
<polyline points="101.9,1282.9 162.5,1134.7 175.2,1104.2 189.4,1070.7 201.2,1043.8 206.5,1031.9 211.9,1020.2 216.8,1010 221.7,1000 226.1,991.4 231,982.1 236.4,972.3 242.2,962.1 248.1,952.4 254,943.2 259.8,934.4 268.6,921.8 274.5,913.8 279.9,907 284.8,901.3 290.1,895.5 295.5,890.2 301.4,884.9 307.2,880 313.1,875.4 319.5,870.9 325.8,866.8 332.2,863.1 338.5,859.6 345.9,855.9 353.2,852.5 360.1,849.7 366.4,847.3 373.3,844.9 380.1,842.9 386.5,841.2 393.3,839.6 400.1,838.3 407,837.2 416.3,835.9 426.1,834.8 436.3,833.7 447.1,832.8 457.8,832.1 469.1,831.5 494,830.4 522.9,829.6 557.6,829.1 597.7,828.7 649.5,828.5 834.8,828.4" fill="none" stroke="#ff0000" stroke-width="2.5" stroke-linejoin="round" stroke-linecap="round" stroke-dasharray="14.75 7.45 2.75 7.85" clip-path="url(#cC)"/>
<text transform="translate(101.9,1316.5) scale(0.955,1)" text-anchor="middle" font-family="'Liberation Sans', sans-serif" font-size="33.5">0.0</text>
<text transform="translate(224.05,1316.5) scale(0.955,1)" text-anchor="middle" font-family="'Liberation Sans', sans-serif" font-size="33.5">0.2</text>
<text transform="translate(346.2,1316.5) scale(0.955,1)" text-anchor="middle" font-family="'Liberation Sans', sans-serif" font-size="33.5">0.4</text>
<text transform="translate(468.35,1316.5) scale(0.955,1)" text-anchor="middle" font-family="'Liberation Sans', sans-serif" font-size="33.5">0.6</text>
<text transform="translate(590.5,1316.5) scale(0.955,1)" text-anchor="middle" font-family="'Liberation Sans', sans-serif" font-size="33.5">0.8</text>
<text transform="translate(712.65,1316.5) scale(0.955,1)" text-anchor="middle" font-family="'Liberation Sans', sans-serif" font-size="33.5">1.0</text>
<text transform="translate(834.8,1316.5) scale(0.955,1)" text-anchor="middle" font-family="'Liberation Sans', sans-serif" font-size="33.5">1.2</text>
<text transform="translate(91.15,1292.5) scale(0.955,1)" text-anchor="end" font-family="'Liberation Sans', sans-serif" font-size="33.5">0.0</text>
<text transform="translate(91.15,1201.6) scale(0.955,1)" text-anchor="end" font-family="'Liberation Sans', sans-serif" font-size="33.5">0.1</text>
<text transform="translate(91.15,1110.7) scale(0.955,1)" text-anchor="end" font-family="'Liberation Sans', sans-serif" font-size="33.5">0.2</text>
<text transform="translate(91.15,1019.8) scale(0.955,1)" text-anchor="end" font-family="'Liberation Sans', sans-serif" font-size="33.5">0.3</text>
<text transform="translate(91.15,928.9) scale(0.955,1)" text-anchor="end" font-family="'Liberation Sans', sans-serif" font-size="33.5">0.4</text>
<text transform="translate(91.15,838) scale(0.955,1)" text-anchor="end" font-family="'Liberation Sans', sans-serif" font-size="33.5">0.5</text>
<text x="675.6999999999999" y="928.5" font-family="'Liberation Serif', serif" font-style="italic" font-size="30">m</text>
<text x="722.4" y="928.5" font-family="'Liberation Serif', serif" font-style="italic" font-size="30">k<tspan dy="9" font-size="21" font-style="normal">B</tspan><tspan dy="-9">T/J</tspan></text>
<line x1="654" y1="965" x2="724.5" y2="965" stroke="#0000ff" stroke-width="2.5" stroke-linecap="round"/>
<text x="732.5" y="976.1" font-family="'Liberation Serif', serif" font-size="31.5">0.01</text>
<line x1="652.12" y1="1138.5" x2="718" y2="1138.5" stroke="#0000ff" stroke-width="2.5" stroke-linecap="round" stroke-dasharray="12.75 13.45"/>
<line x1="738.83" y1="1138.5" x2="809.48" y2="1138.5" stroke="#0000ff" stroke-width="2.5" stroke-linecap="round" stroke-dasharray="14.75 7.45 2.75 7.85"/>
<line x1="654" y1="1003.4" x2="724.5" y2="1003.4" stroke="#008000" stroke-width="2.5" stroke-linecap="round"/>
<text x="732.5" y="1014.5" font-family="'Liberation Serif', serif" font-size="31.5">0.05</text>
<line x1="652.12" y1="1176.9" x2="718" y2="1176.9" stroke="#008000" stroke-width="2.5" stroke-linecap="round" stroke-dasharray="12.75 13.45"/>
<line x1="738.83" y1="1176.9" x2="809.48" y2="1176.9" stroke="#008000" stroke-width="2.5" stroke-linecap="round" stroke-dasharray="14.75 7.45 2.75 7.85"/>
<line x1="654" y1="1041.8" x2="724.5" y2="1041.8" stroke="#ff0000" stroke-width="2.5" stroke-linecap="round"/>
<text x="732.5" y="1052.9" font-family="'Liberation Serif', serif" font-size="31.5">0.10</text>
<line x1="652.12" y1="1215.3" x2="718" y2="1215.3" stroke="#ff0000" stroke-width="2.5" stroke-linecap="round" stroke-dasharray="12.75 13.45"/>
<line x1="738.83" y1="1215.3" x2="809.48" y2="1215.3" stroke="#ff0000" stroke-width="2.5" stroke-linecap="round" stroke-dasharray="14.75 7.45 2.75 7.85"/>
<text x="674" y="1103.1" font-family="'Liberation Serif', serif" font-style="italic" font-size="30">m<tspan dy="9.4" font-size="21">H</tspan></text>
<text x="748" y="1103.1" font-family="'Liberation Serif', serif" font-style="italic" font-size="30">m<tspan dy="9.4" font-size="21">I</tspan></text>
<text x="263" y="1148" font-family="'Liberation Serif', serif" font-size="31"><tspan font-style="italic">J</tspan><tspan dy="9.4" dx="1" font-size="21" font-style="italic">1</tspan><tspan dy="-9.4" font-style="italic"> / J</tspan> = -0.5</text>
<text x="468.3" y="1353.2" text-anchor="middle" font-family="'Liberation Serif', serif" font-style="italic" font-size="32">h / J</text>
<text transform="translate(13.6,1008.5) rotate(-90)" text-anchor="middle" font-family="'Liberation Serif', serif" font-style="italic" font-size="32" word-spacing="1.2">m, m<tspan dy="10" dx="0.5" font-size="21">H</tspan><tspan dy="-10">, m</tspan><tspan dy="10" dx="0.5" font-size="21">I</tspan></text>
<rect x="1018.5" y="782.95" width="732.6" height="499.95" fill="none" stroke="#000" stroke-width="1.7"/>
<path d="M1153.91 1282.9v-9.2M1153.91 782.95v9.2M1289.76 1282.9v-9.2M1289.76 782.95v9.2M1425.61 1282.9v-9.2M1425.61 782.95v9.2M1561.46 1282.9v-9.2M1561.46 782.95v9.2M1697.31 1282.9v-9.2M1697.31 782.95v9.2M1085.98 1282.9v-4.6M1085.98 782.95v4.6M1221.84 1282.9v-4.6M1221.84 782.95v4.6M1357.68 1282.9v-4.6M1357.68 782.95v4.6M1493.54 1282.9v-4.6M1493.54 782.95v4.6M1629.38 1282.9v-4.6M1629.38 782.95v4.6M1018.5 1192h9.2M1751.1 1192h-9.2M1018.5 1101.1h9.2M1751.1 1101.1h-9.2M1018.5 1010.2h9.2M1751.1 1010.2h-9.2M1018.5 919.3h9.2M1751.1 919.3h-9.2M1018.5 828.4h9.2M1751.1 828.4h-9.2M1018.5 1237.45h4.6M1751.1 1237.45h-4.6M1018.5 1146.55h4.6M1751.1 1146.55h-4.6M1018.5 1055.65h4.6M1751.1 1055.65h-4.6M1018.5 964.75h4.6M1751.1 964.75h-4.6M1018.5 873.85h4.6M1751.1 873.85h-4.6" fill="none" stroke="#000" stroke-width="1.7"/>
<polyline points="1018.1,1282.9 1145.8,1282.9 1157.5,1282.8 1162.4,1282.5 1163.9,1282.3 1165.4,1281.9 1166.8,1281.3 1167.8,1280.7 1168.8,1279.9 1169.8,1278.8 1170.7,1277.3 1171.2,1276.3 1172.2,1274 1173.2,1270.8 1174.2,1266.6 1175.2,1261.1 1175.6,1257.8 1177.1,1245.1 1178.1,1234 1179.6,1213.4 1181,1188.6 1183.5,1144.2 1184.9,1120.2 1186.4,1100.6 1187.4,1090.2 1188.4,1081.9 1189.3,1075.4 1190.3,1070.4 1191.3,1066.6 1192.3,1063.7 1193.3,1061.6 1193.7,1060.7 1194.7,1059.4 1196.2,1058 1197.2,1057.4 1198.2,1056.9 1200.1,1056.3 1203,1055.9 1207,1055.7 1213.3,1055.7 1603.9,1055.6 1609.2,1055.5 1612.2,1055.2 1614.1,1054.8 1615.1,1054.5 1616.1,1054 1617.6,1052.8 1618.5,1051.5 1619,1050.7 1620,1048.7 1621,1045.8 1622,1041.8 1622.5,1039.2 1623.4,1032.8 1623.9,1028.8 1624.9,1019.1 1625.4,1013.2 1626.9,991.4 1628.3,963.9 1631.3,904.3 1632.7,879.8 1633.7,866.9 1634.2,861.4 1635.2,852.5 1635.7,848.9 1636.6,843.1 1637.1,840.8 1638.1,837.2 1639.1,834.6 1640.1,832.8 1641,831.5 1642,830.5 1643,829.9 1644,829.4 1645,829.1 1646.4,828.8 1650.3,828.5 1660.1,828.4 1751.7,828.4" fill="none" stroke="#0000ff" stroke-width="2.25" stroke-linejoin="round" stroke-linecap="butt" clip-path="url(#cD)"/>
<polyline points="1018.1,1282.9 1066,1282.9 1088.5,1282.7 1097.3,1282.5 1104.2,1282.2 1110.1,1281.8 1115.4,1281.3 1120.8,1280.6 1125.2,1279.7 1129.6,1278.5 1133.6,1277 1137,1275.4 1140.4,1273.4 1143.8,1270.8 1146.8,1268 1149.7,1264.7 1152.2,1261.5 1155.1,1256.9 1157.5,1252.5 1160,1247.4 1162.4,1241.7 1164.9,1235.2 1166.8,1229.6 1168.8,1223.5 1170.7,1217 1175.2,1200.8 1179.1,1185.2 1188.4,1146.7 1190.8,1137.1 1193.3,1127.9 1196.2,1117.7 1198.6,1109.9 1201.1,1102.8 1204,1095.3 1207,1088.7 1208.4,1085.8 1210.4,1082.2 1213.3,1077.5 1214.8,1075.5 1216.8,1073 1218.2,1071.4 1220.2,1069.4 1222.1,1067.6 1224.1,1066.1 1226,1064.8 1228,1063.6 1230,1062.5 1232.4,1061.4 1235.8,1060.2 1239.8,1059.1 1244.2,1058.1 1248.6,1057.4 1253.5,1056.9 1259.3,1056.5 1266.2,1056.1 1274,1055.9 1288.7,1055.7 1311.2,1055.7 1512.8,1055.6 1533.9,1055.4 1548.1,1055.1 1554.9,1054.7 1560.8,1054.2 1566.2,1053.5 1570.6,1052.7 1575,1051.6 1578.9,1050.3 1582.3,1048.8 1585.7,1046.9 1589.2,1044.5 1591.1,1042.8 1592.6,1041.4 1594.6,1039.4 1596,1037.7 1599,1033.8 1601.9,1029.1 1604.8,1023.6 1607.8,1017.2 1610.2,1011.1 1612.2,1005.7 1614.6,998.3 1617.1,990.3 1619.5,981.6 1624.4,962.6 1633.2,926.1 1636.6,912.4 1640.6,897.8 1644,886.2 1645.9,880.2 1647.9,874.7 1649.9,869.6 1652.3,863.9 1654.3,859.8 1656.7,855.2 1659.2,851.2 1661.6,847.8 1664,844.8 1667,841.8 1669.9,839.3 1672.9,837.3 1676.3,835.4 1679.7,833.9 1683.6,832.5 1688,831.4 1692.4,830.6 1697.3,829.9 1702.7,829.4 1709.1,829 1716.4,828.8 1725.2,828.6 1751.7,828.4" fill="none" stroke="#008000" stroke-width="2.25" stroke-linejoin="round" stroke-linecap="butt" clip-path="url(#cD)"/>
<polyline points="1018.1,1282.9 1043,1281.8 1052.3,1281.2 1060.6,1280.4 1068.5,1279.6 1075.3,1278.6 1081.7,1277.5 1088,1276 1093.9,1274.4 1099.8,1272.5 1105.2,1270.3 1110.1,1268 1115,1265.3 1119.4,1262.4 1123.8,1259.2 1128.2,1255.5 1132.1,1251.8 1135.5,1248.3 1139.4,1243.9 1142.9,1239.6 1146.3,1235 1149.7,1230.1 1153.1,1224.8 1157,1218.4 1162.9,1207.9 1169.3,1195.7 1175.6,1182.9 1191.3,1150.4 1195.7,1141.5 1199.6,1134 1204,1125.9 1208.4,1118.3 1212.8,1111.2 1216.8,1105.4 1221.6,1098.7 1226.5,1092.8 1231.4,1087.5 1236.3,1082.9 1238.8,1080.8 1241.7,1078.5 1244.2,1076.7 1247.1,1074.7 1252.5,1071.5 1255.4,1070 1258.3,1068.6 1263.7,1066.4 1269.6,1064.4 1276,1062.6 1282.3,1061.2 1289.2,1060 1297,1058.9 1305.3,1058.1 1314.6,1057.4 1322.9,1056.9 1332.2,1056.5 1354.3,1056 1378.2,1055.8 1441.4,1055.4 1469.3,1055 1481.5,1054.7 1492.3,1054.2 1501.6,1053.6 1510.4,1052.8 1518.7,1051.8 1526.5,1050.6 1533.9,1049.1 1540.2,1047.4 1546.6,1045.3 1552.5,1043 1557.9,1040.4 1563.2,1037.3 1568.1,1034.1 1573,1030.3 1577.4,1026.4 1581.8,1022 1586.2,1017.1 1590.6,1011.6 1594.6,1006.3 1599,999.7 1602.4,994.2 1606.3,987.6 1610.2,980.5 1614.1,973.1 1621.5,958.5 1635.2,930 1640.6,919 1645.9,908.4 1651.3,898.5 1654.8,892.5 1657.7,887.7 1660.6,883.1 1663.6,878.7 1666.5,874.6 1669.4,870.7 1672.4,867.1 1675.3,863.8 1678.7,860.2 1682.6,856.5 1686.6,853.1 1690.5,850.1 1694.4,847.4 1698.3,845.1 1702.7,842.7 1707.1,840.7 1711.5,838.9 1716.4,837.3 1721.3,835.9 1726.7,834.6 1732.6,833.4 1738.4,832.4 1744.8,831.6 1751.7,830.9" fill="none" stroke="#ff0000" stroke-width="2.25" stroke-linejoin="round" stroke-linecap="butt" clip-path="url(#cD)"/>
<polyline points="1018.1,1282.9 1599.5,1282.9 1605.8,1282.8 1609.7,1282.6 1612.2,1282.1 1613.2,1281.7 1614.1,1281.2 1615.1,1280.5 1616.1,1279.5 1617.1,1278.1 1617.6,1277.1 1618.5,1274.7 1619,1273.1 1620,1268.9 1621,1263.2 1622,1255.1 1622.9,1244.1 1623.9,1229.3 1624.9,1209.7 1625.4,1198 1626.9,1154.4 1628.3,1099.4 1631.3,980.2 1632.7,931.1 1633.7,905.3 1634.2,894.5 1635.2,876.6 1635.7,869.4 1636.6,857.8 1637.1,853.2 1638.1,846 1639.1,840.8 1640.1,837.1 1641,834.5 1642,832.7 1643,831.4 1644,830.5 1645,829.9 1646.4,829.3 1648.4,828.8 1650.3,828.6 1653.8,828.5 1660.1,828.4 1751.7,828.4" fill="none" stroke="#0000ff" stroke-width="2.25" stroke-linejoin="round" stroke-linecap="round" stroke-dasharray="12.97 13.22" clip-path="url(#cD)"/>
<polyline points="1018.1,1282.9 1475.6,1282.9 1507,1282.8 1524.6,1282.7 1535.3,1282.5 1543.7,1282.1 1551,1281.5 1556.9,1280.7 1562.3,1279.7 1567.2,1278.3 1569.6,1277.4 1571.6,1276.6 1573.5,1275.6 1575.5,1274.5 1578.4,1272.5 1580.9,1270.5 1583.3,1268.1 1585.3,1265.9 1587.7,1262.7 1589.7,1259.7 1591.6,1256.3 1593.6,1252.5 1595.5,1248.2 1597.5,1243.2 1599.5,1237.7 1600.9,1233.1 1602.9,1226.4 1604.3,1220.8 1606.3,1212.6 1607.8,1206 1610.7,1191.2 1613.2,1177.3 1616.1,1158.7 1619,1138.3 1621.5,1120 1623.9,1100.8 1633.2,1023.8 1637.1,992.5 1641,963.7 1644.5,941 1646.4,929.2 1648.4,918.4 1650.3,908.4 1652.8,897.2 1654.8,889.2 1657.2,880.4 1659.6,872.6 1662.1,865.9 1664.5,860.2 1666,857.1 1667.5,854.4 1668.9,851.8 1670.4,849.5 1673.3,845.6 1674.8,843.9 1676.8,841.9 1678.2,840.5 1680.2,838.9 1682.2,837.6 1684.1,836.3 1686.1,835.3 1688.5,834.2 1692.9,832.6 1697.8,831.3 1703.2,830.4 1709.6,829.6 1716.9,829.1 1725.7,828.8 1736.5,828.6 1751.7,828.5" fill="none" stroke="#008000" stroke-width="2.25" stroke-linejoin="round" stroke-linecap="round" stroke-dasharray="12.97 13.22" clip-path="url(#cD)"/>
<polyline points="1018.1,1282.9 1384.6,1282.8 1430.6,1282.6 1446.8,1282.4 1460.5,1282 1475.6,1281.3 1488.8,1280.3 1494.7,1279.7 1500.1,1279 1505,1278.3 1509.9,1277.4 1514.3,1276.4 1518.7,1275.3 1523.1,1274 1527,1272.6 1530.9,1271.1 1534.9,1269.3 1538.3,1267.5 1541.7,1265.6 1545.6,1263 1549.5,1260.1 1553,1257.2 1556.4,1253.9 1559.8,1250.3 1563.2,1246.3 1566.7,1241.8 1569.6,1237.6 1572.5,1233 1575.5,1228 1578.4,1222.5 1581.3,1216.6 1584.3,1210.3 1587.2,1203.5 1590.2,1196.1 1592.6,1189.6 1597,1177 1601.9,1161.7 1606.3,1146.8 1611.2,1129 1615.6,1112.1 1620,1094.5 1635.7,1029.5 1641.5,1005.7 1647.4,982.9 1653.3,961.7 1656.7,950.1 1659.6,940.7 1662.6,931.9 1665.5,923.5 1668.5,915.6 1671.4,908.2 1674.3,901.4 1677.8,894 1681.2,887.2 1685.1,880.2 1688.5,874.7 1692.4,869 1696.3,864 1700.3,859.6 1704.2,855.6 1708.6,851.8 1713,848.4 1717.9,845.2 1722.8,842.6 1727.7,840.3 1733.1,838.2 1738.9,836.3 1745.3,834.7 1751.7,833.4" fill="none" stroke="#ff0000" stroke-width="2.25" stroke-linejoin="round" stroke-linecap="round" stroke-dasharray="12.97 13.22" clip-path="url(#cD)"/>
<polyline points="1018.1,1282.9 1145.8,1282.9 1153.1,1282.9 1157.5,1282.7 1160.5,1282.5 1162.4,1282.1 1163.9,1281.6 1165.4,1280.9 1166.8,1279.7 1167.8,1278.5 1168.8,1276.9 1169.8,1274.6 1170.7,1271.6 1171.2,1269.7 1172.2,1265 1173.2,1258.7 1174.2,1250.4 1175.2,1239.4 1175.6,1232.7 1177.1,1207.3 1178.1,1185.1 1179.6,1143.8 1181,1094.3 1183.5,1005.4 1184.9,957.5 1186.4,918.3 1187.4,897.6 1188.4,881 1189.3,867.9 1190.3,857.9 1191.3,850.3 1192.3,844.5 1192.8,842.2 1193.7,838.6 1194.2,837.1 1195.2,834.8 1196.2,833.1 1197.2,831.8 1198.2,830.9 1199.1,830.2 1200.1,829.7 1201.1,829.4 1202.6,829 1204,828.8 1207.9,828.5 1215.3,828.4 1751.7,828.4" fill="none" stroke="#0000ff" stroke-width="2.25" stroke-linejoin="round" stroke-linecap="round" stroke-dasharray="14.97 7.22 2.98 7.62" clip-path="url(#cD)"/>
<polyline points="1018.1,1282.9 1066,1282.8 1078.7,1282.7 1088.5,1282.5 1097.3,1282.1 1104.2,1281.5 1110.1,1280.8 1115.4,1279.8 1118.4,1279 1120.8,1278.2 1123.3,1277.3 1125.2,1276.5 1127.7,1275.2 1129.6,1274.1 1131.6,1272.7 1133.6,1271.2 1135.5,1269.4 1137,1267.9 1138.9,1265.7 1140.4,1263.8 1142.4,1261 1143.8,1258.6 1145.3,1256 1146.8,1253.2 1148.2,1250 1149.7,1246.6 1152.2,1240.1 1155.1,1230.9 1157.5,1222.1 1160,1211.9 1162.4,1200.5 1164.9,1187.6 1166.8,1176.3 1168.8,1164.1 1170.7,1151 1172.7,1137.1 1175.2,1118.7 1179.1,1087.5 1188.4,1010.5 1191.3,987.5 1193.7,969.4 1196.7,949.3 1199.6,931.1 1202.1,917.5 1205,903 1207.9,890.5 1209.4,884.9 1211.4,878.2 1212.8,873.6 1214.8,868.1 1216.8,863.1 1218.7,858.8 1220.7,855 1222.6,851.6 1224.6,848.6 1227,845.4 1229,843.2 1231.4,840.8 1233.9,838.8 1236.8,836.8 1238.8,835.7 1240.7,834.7 1242.7,833.9 1245.1,833 1249.5,831.7 1254.9,830.7 1260.8,829.9 1267.6,829.3 1276,828.9 1286.2,828.6 1303.9,828.5 1334.2,828.4 1751.7,828.4" fill="none" stroke="#008000" stroke-width="2.25" stroke-linejoin="round" stroke-linecap="round" stroke-dasharray="14.97 7.22 2.98 7.62" clip-path="url(#cD)"/>
<polyline points="1018.1,1282.9 1032.7,1281.7 1043,1280.6 1052.3,1279.4 1060.6,1278 1068.5,1276.3 1075.3,1274.3 1081.7,1272 1087.6,1269.4 1090.5,1267.9 1093.4,1266.3 1096.4,1264.4 1098.8,1262.8 1101.7,1260.6 1104.2,1258.6 1106.6,1256.4 1109.1,1254 1111.5,1251.5 1114,1248.8 1118.4,1243.3 1122.8,1237 1127.2,1229.8 1131.1,1222.7 1134.5,1215.8 1138.4,1207.1 1141.9,1198.8 1145.3,1189.9 1148.7,1180.2 1152.2,1169.8 1156.1,1157.1 1159,1147.1 1162.4,1134.8 1168.8,1110.5 1175.2,1084.8 1191.8,1015.8 1196.2,998.2 1200.6,981.4 1205.5,963.7 1210.4,947.2 1215.3,932.1 1219.7,919.7 1222.1,913.3 1225.1,906.1 1228,899.4 1230.9,893.1 1233.9,887.4 1236.8,882 1239.8,877.1 1242.7,872.6 1245.6,868.5 1249.1,864.1 1252,860.7 1255.4,857.1 1258.8,853.9 1262.3,851 1265.7,848.5 1269.6,845.9 1273,843.9 1276.5,842.1 1279.9,840.5 1283.8,838.9 1287.7,837.6 1291.6,836.3 1296,835.2 1300.4,834.2 1305.3,833.2 1310.2,832.4 1315.6,831.7 1321,831.1 1333.7,830.1 1348.9,829.4 1362.1,829 1377.8,828.7 1422.3,828.5 1751.7,828.4" fill="none" stroke="#ff0000" stroke-width="2.25" stroke-linejoin="round" stroke-linecap="round" stroke-dasharray="14.97 7.22 2.98 7.62" clip-path="url(#cD)"/>
<text transform="translate(1018.06,1316.5) scale(0.955,1)" text-anchor="middle" font-family="'Liberation Sans', sans-serif" font-size="33.5">0.0</text>
<text transform="translate(1153.91,1316.5) scale(0.955,1)" text-anchor="middle" font-family="'Liberation Sans', sans-serif" font-size="33.5">0.5</text>
<text transform="translate(1289.76,1316.5) scale(0.955,1)" text-anchor="middle" font-family="'Liberation Sans', sans-serif" font-size="33.5">1.0</text>
<text transform="translate(1425.61,1316.5) scale(0.955,1)" text-anchor="middle" font-family="'Liberation Sans', sans-serif" font-size="33.5">1.5</text>
<text transform="translate(1561.46,1316.5) scale(0.955,1)" text-anchor="middle" font-family="'Liberation Sans', sans-serif" font-size="33.5">2.0</text>
<text transform="translate(1697.31,1316.5) scale(0.955,1)" text-anchor="middle" font-family="'Liberation Sans', sans-serif" font-size="33.5">2.5</text>
<text transform="translate(1008.0,1292.5) scale(0.955,1)" text-anchor="end" font-family="'Liberation Sans', sans-serif" font-size="33.5">0.0</text>
<text transform="translate(1008.0,1201.6) scale(0.955,1)" text-anchor="end" font-family="'Liberation Sans', sans-serif" font-size="33.5">0.1</text>
<text transform="translate(1008.0,1110.7) scale(0.955,1)" text-anchor="end" font-family="'Liberation Sans', sans-serif" font-size="33.5">0.2</text>
<text transform="translate(1008.0,1019.8) scale(0.955,1)" text-anchor="end" font-family="'Liberation Sans', sans-serif" font-size="33.5">0.3</text>
<text transform="translate(1008.0,928.9) scale(0.955,1)" text-anchor="end" font-family="'Liberation Sans', sans-serif" font-size="33.5">0.4</text>
<text transform="translate(1008.0,838) scale(0.955,1)" text-anchor="end" font-family="'Liberation Sans', sans-serif" font-size="33.5">0.5</text>
<text x="1326.8" y="870.0" font-family="'Liberation Serif', serif" font-style="italic" font-size="30">m</text>
<text x="1373.5" y="870.0" font-family="'Liberation Serif', serif" font-style="italic" font-size="30">k<tspan dy="9" font-size="21" font-style="normal">B</tspan><tspan dy="-9">T/J</tspan></text>
<line x1="1305" y1="906.1" x2="1375.5" y2="906.1" stroke="#0000ff" stroke-width="2.25" stroke-linecap="round"/>
<text x="1383.5" y="917.2" font-family="'Liberation Serif', serif" font-size="31.5">0.01</text>
<line x1="1303.01" y1="1150.5" x2="1369" y2="1150.5" stroke="#0000ff" stroke-width="2.25" stroke-linecap="round" stroke-dasharray="12.97 13.22"/>
<line x1="1389.71" y1="1150.5" x2="1460.59" y2="1150.5" stroke="#0000ff" stroke-width="2.25" stroke-linecap="round" stroke-dasharray="14.97 7.22 2.98 7.62"/>
<line x1="1305" y1="944.5" x2="1375.5" y2="944.5" stroke="#008000" stroke-width="2.25" stroke-linecap="round"/>
<text x="1383.5" y="955.6" font-family="'Liberation Serif', serif" font-size="31.5">0.05</text>
<line x1="1303.01" y1="1188.9" x2="1369" y2="1188.9" stroke="#008000" stroke-width="2.25" stroke-linecap="round" stroke-dasharray="12.97 13.22"/>
<line x1="1389.71" y1="1188.9" x2="1460.59" y2="1188.9" stroke="#008000" stroke-width="2.25" stroke-linecap="round" stroke-dasharray="14.97 7.22 2.98 7.62"/>
<line x1="1305" y1="982.9" x2="1375.5" y2="982.9" stroke="#ff0000" stroke-width="2.25" stroke-linecap="round"/>
<text x="1383.5" y="994" font-family="'Liberation Serif', serif" font-size="31.5">0.10</text>
<line x1="1303.01" y1="1227.3" x2="1369" y2="1227.3" stroke="#ff0000" stroke-width="2.25" stroke-linecap="round" stroke-dasharray="12.97 13.22"/>
<line x1="1389.71" y1="1227.3" x2="1460.59" y2="1227.3" stroke="#ff0000" stroke-width="2.25" stroke-linecap="round" stroke-dasharray="14.97 7.22 2.98 7.62"/>
<text x="1325" y="1115.1" font-family="'Liberation Serif', serif" font-style="italic" font-size="30">m<tspan dy="9.4" font-size="21">H</tspan></text>
<text x="1399" y="1115.1" font-family="'Liberation Serif', serif" font-style="italic" font-size="30">m<tspan dy="9.4" font-size="21">I</tspan></text>
<text x="1024.5" y="880.3" font-family="'Liberation Serif', serif" font-size="31"><tspan font-style="italic">J</tspan><tspan dy="9.4" dx="1" font-size="21" font-style="italic">1</tspan><tspan dy="-9.4" font-style="italic"> / J</tspan> = 1.5</text>
<text x="1385.6" y="1348.7" text-anchor="middle" font-family="'Liberation Serif', serif" font-style="italic" font-size="32">h / J</text>
<text transform="translate(930.2,1008) rotate(-90)" text-anchor="middle" font-family="'Liberation Serif', serif" font-style="italic" font-size="32" word-spacing="1.2">m, m<tspan dy="10" dx="0.5" font-size="21">H</tspan><tspan dy="-10">, m</tspan><tspan dy="10" dx="0.5" font-size="21">I</tspan></text>
</svg></body></html>
